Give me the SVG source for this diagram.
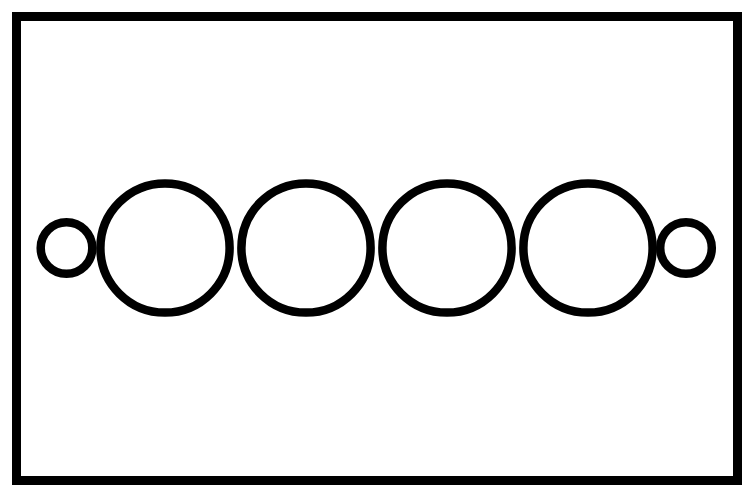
<svg xmlns="http://www.w3.org/2000/svg" width="745" height="491" viewBox="0 0 745 491">
<style>
.s{fill:none;stroke:#000;stroke-width:8.5}
</style>
<rect width="745" height="491" fill="#fff"/>
<g id="frame"><rect class="s" x="16.5" y="16.5" width="721" height="464" style="stroke-width:9"/></g>
<g id="small-left"><circle class="s" cx="66.5" cy="248" r="25.8"/></g>
<g id="big-1"><circle class="s" cx="165" cy="248" r="64.6"/></g>
<g id="big-2"><circle class="s" cx="306" cy="248" r="64.6"/></g>
<g id="big-3"><circle class="s" cx="447" cy="248" r="64.6"/></g>
<g id="big-4"><circle class="s" cx="588" cy="248" r="64.6"/></g>
<g id="small-right"><circle class="s" cx="686" cy="248" r="25.8"/></g>
<g id="connectors"></g>
</svg>
